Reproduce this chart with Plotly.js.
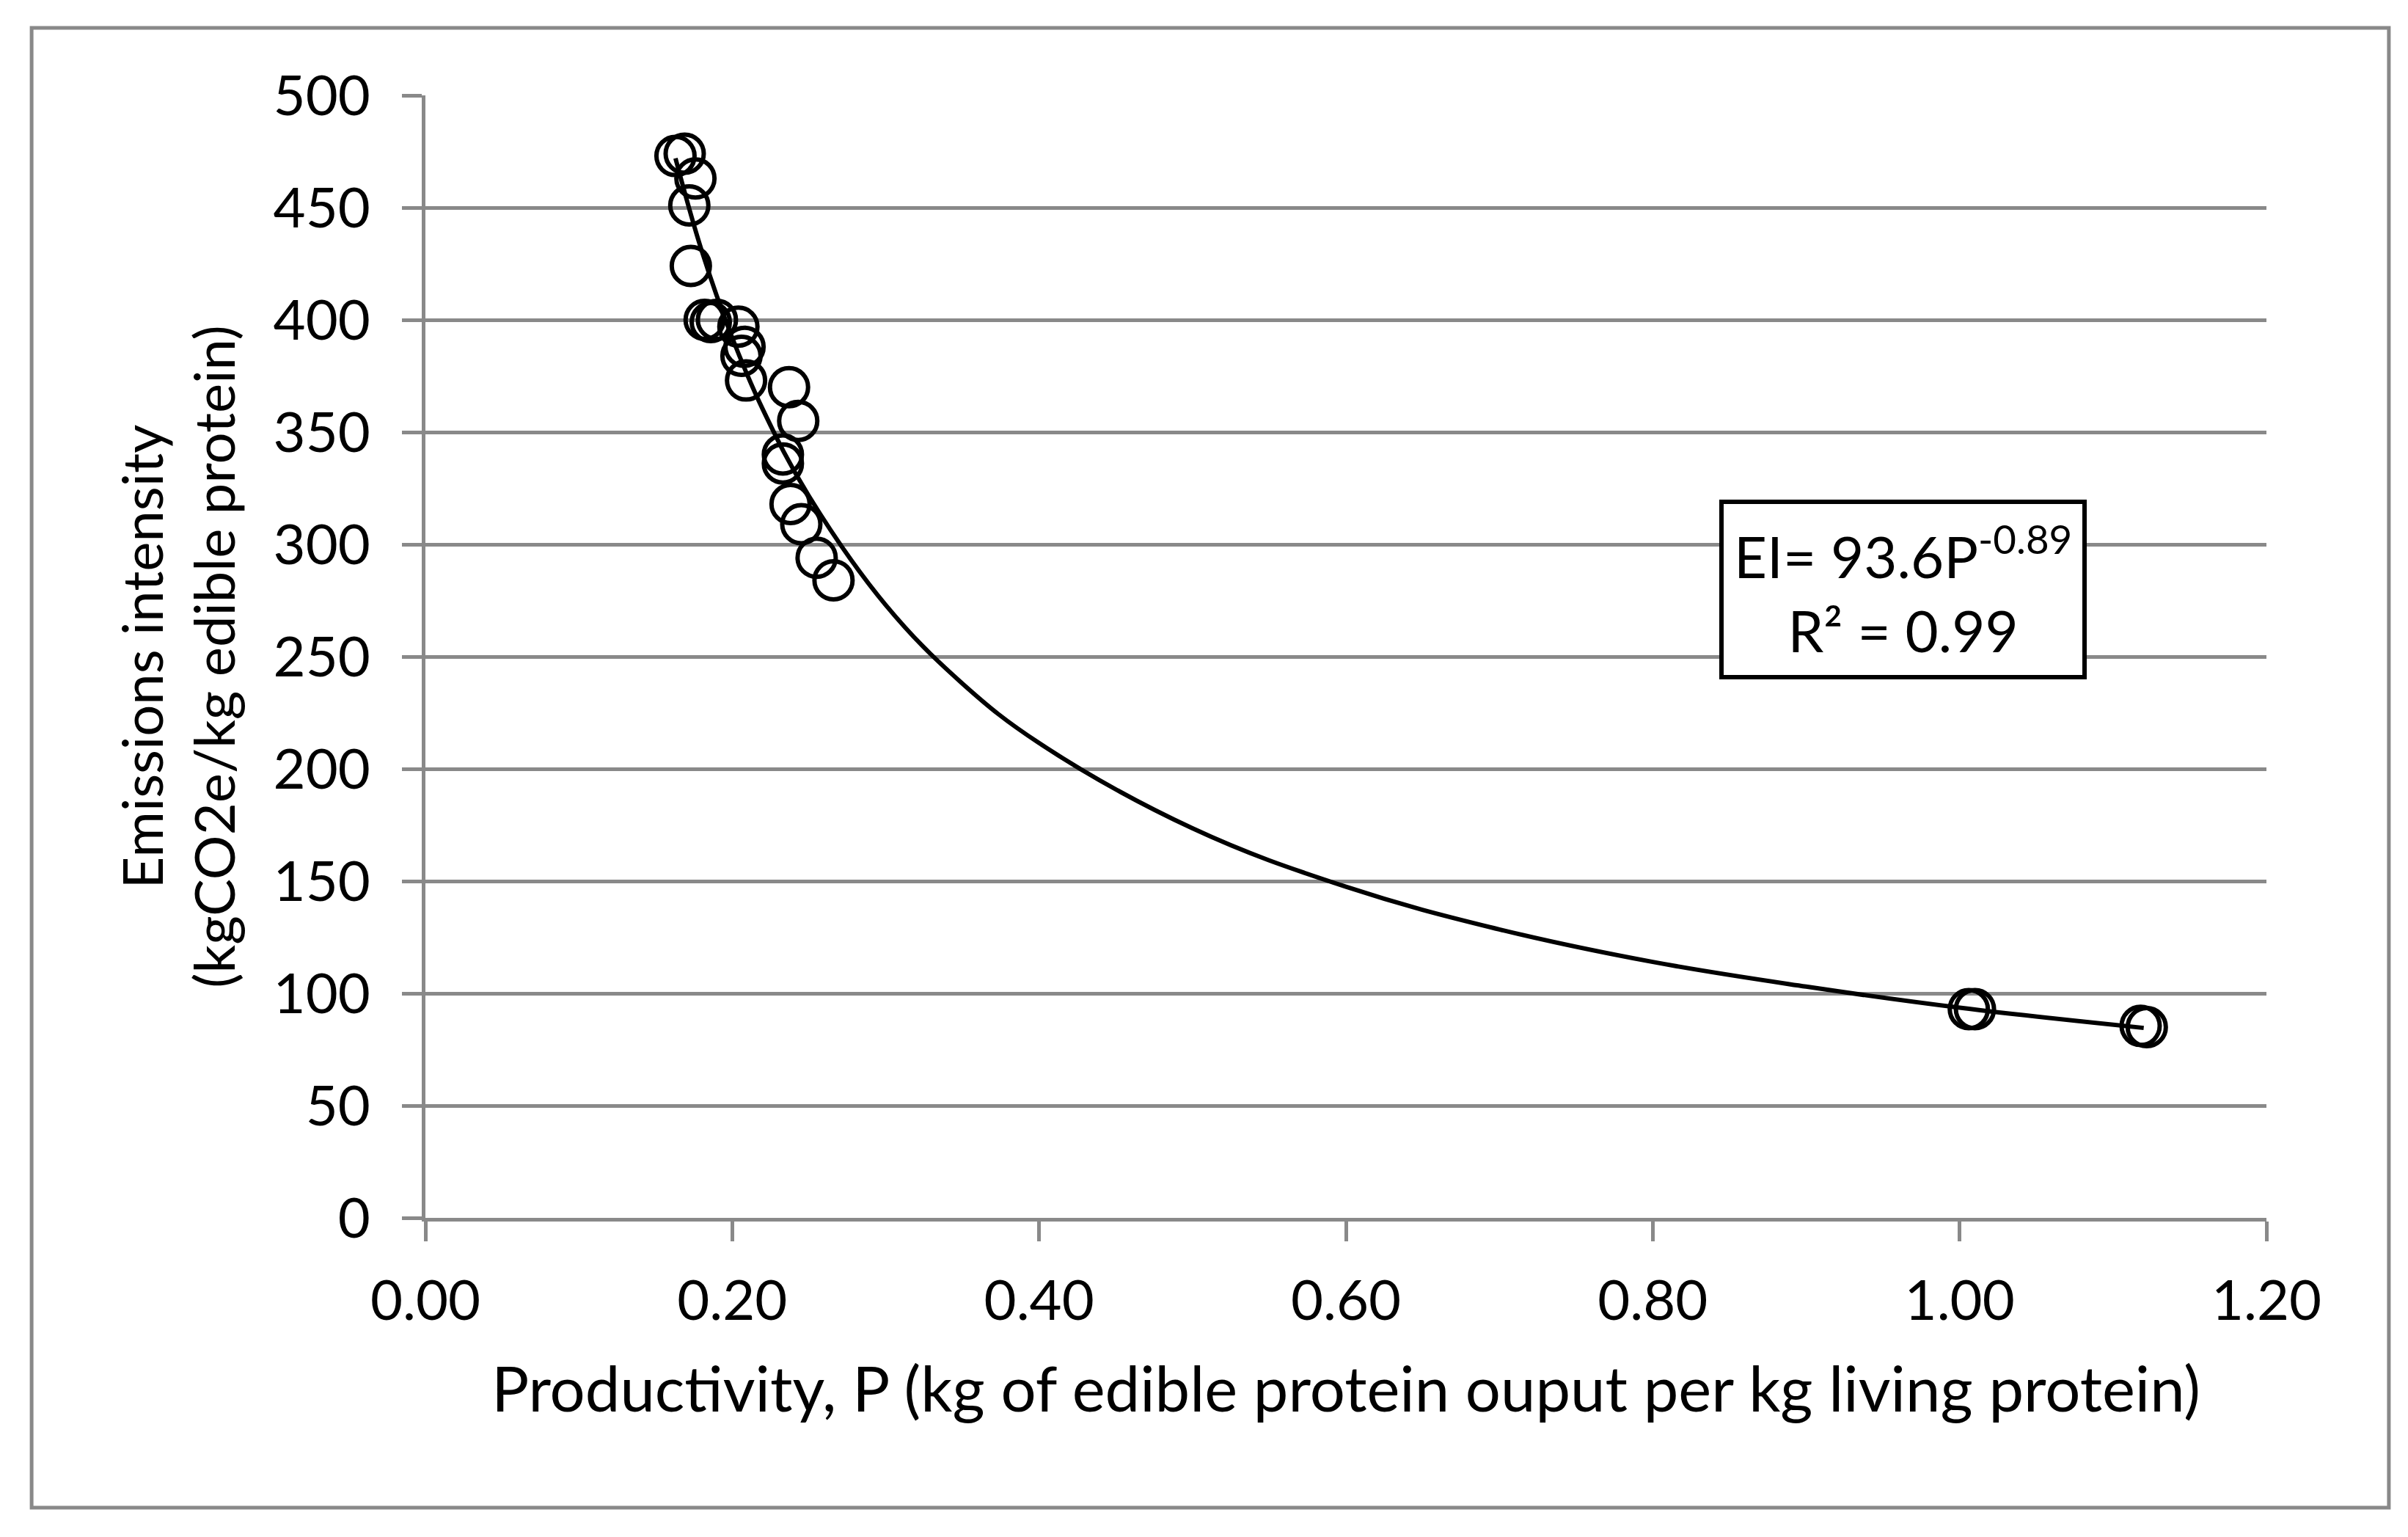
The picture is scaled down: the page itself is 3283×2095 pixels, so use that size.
<!DOCTYPE html>
<html>
<head>
<meta charset="utf-8">
<script src="https://cdn.plot.ly/plotly-3.0.1.min.js"></script>
<style>
  body { margin: 0; background: #fff; }
  #plot { width: 3283px; height: 2095px; }
</style>
</head>
<body>
<div id="plot"></div>
<script>
// observed points: productivity P vs emissions intensity EI
var prodP = [0.163, 0.169, 0.176, 0.172, 0.173, 0.182, 0.186, 0.190, 0.204, 0.208, 0.206, 0.209,
             0.237, 0.243, 0.233, 0.233, 0.238, 0.245, 0.255, 0.266, 1.006, 1.010, 1.118, 1.122];
var emisEI = [473, 474, 463, 451, 424, 400, 399, 400, 397, 388, 384, 373,
              370, 355, 340, 336, 318, 309, 294, 284, 93, 93, 85.5, 85];

// power trendline
var fitP = [0.163, 0.18, 0.2, 0.22, 0.25, 0.3, 0.35, 0.4, 0.5, 0.6, 0.7, 0.8, 0.9, 1.0, 1.12];
var fitEI = [472, 431, 392, 360, 321.5, 273, 238, 211.5, 173.5, 147.5, 128.5, 114, 103, 93.6, 84.6];

var xTicks = [0, 0.2, 0.4, 0.6, 0.8, 1.0, 1.2];
var xTickText = ['0.00', '0.20', '0.40', '0.60', '0.80', '1.00', '1.20'];
var yTicks = [0, 50, 100, 150, 200, 250, 300, 350, 400, 450, 500];

var fontFam = 'Lato, "Open Sans", sans-serif';
var grey = '#898989';

var points = {
    x: prodP,
    y: emisEI,
    type: 'scatter',
    mode: 'markers',
    marker: {symbol: 'circle', size: 52, color: 'rgba(0,0,0,0)',
             line: {color: '#000', width: 6}},
    hoverinfo: 'skip'
}
var trend = {
    x: fitP,
    y: fitEI,
    type: 'scatter',
    mode: 'lines',
    line: {color: '#000', width: 6, shape: 'spline', smoothing: 1.1},
    hoverinfo: 'skip'
}

var layout = {
    width: 3283,
    height: 2095,
    margin: {l: 580, r: 193, t: 130, b: 435},
    paper_bgcolor: '#fff',
    plot_bgcolor: '#fff',
    showlegend: false,
    font: {family: fontFam, size: 76, color: '#000'},
    xaxis: {
        range: [0, 1.2],
        tickvals: xTicks,
        ticktext: xTickText,
        showgrid: false,
        zeroline: false,
        showline: true,
        linecolor: grey,
        linewidth: 5,
        ticks: 'outside',
        ticklen: 27,
        tickwidth: 5,
        tickcolor: grey,
        ticklabelstandoff: 16,
        title: {text: 'Productivity, P (kg of edible protein ouput per kg living protein)',
                font: {size: 85}, standoff: 52}
    },
    yaxis: {
        range: [0, 500],
        tickvals: yTicks,
        showgrid: true,
        gridcolor: grey,
        gridwidth: 5,
        zeroline: false,
        showline: true,
        linecolor: grey,
        linewidth: 5,
        ticks: 'outside',
        ticklen: 27,
        tickwidth: 5,
        tickcolor: grey,
        ticklabelstandoff: 28,
        title: {text: 'Emissions intensity<br>(kgCO2e/kg edible protein)',
                font: {size: 76}, standoff: 28}
    },
    annotations: [{
        xref: 'x', yref: 'y',
        x: 0.963, y: 280,
        text: 'EI= 93.6P<sup>-0.89</sup><br>R² = 0.99',
        showarrow: false,
        font: {family: fontFam, size: 78, color: '#000'},
        bgcolor: '#fff',
        bordercolor: '#000',
        borderwidth: 6,
        borderpad: 14,
        align: 'center'
    }],
    shapes: [{
        type: 'rect', xref: 'paper', yref: 'paper',
        x0: -0.2139, x1: 1.0665, y0: -0.2582, y1: 1.0601,
        line: {color: grey, width: 5}
    }]
}

Plotly.newPlot('plot', [points, trend], layout, {staticPlot: true})
</script>
</body>
</html>
